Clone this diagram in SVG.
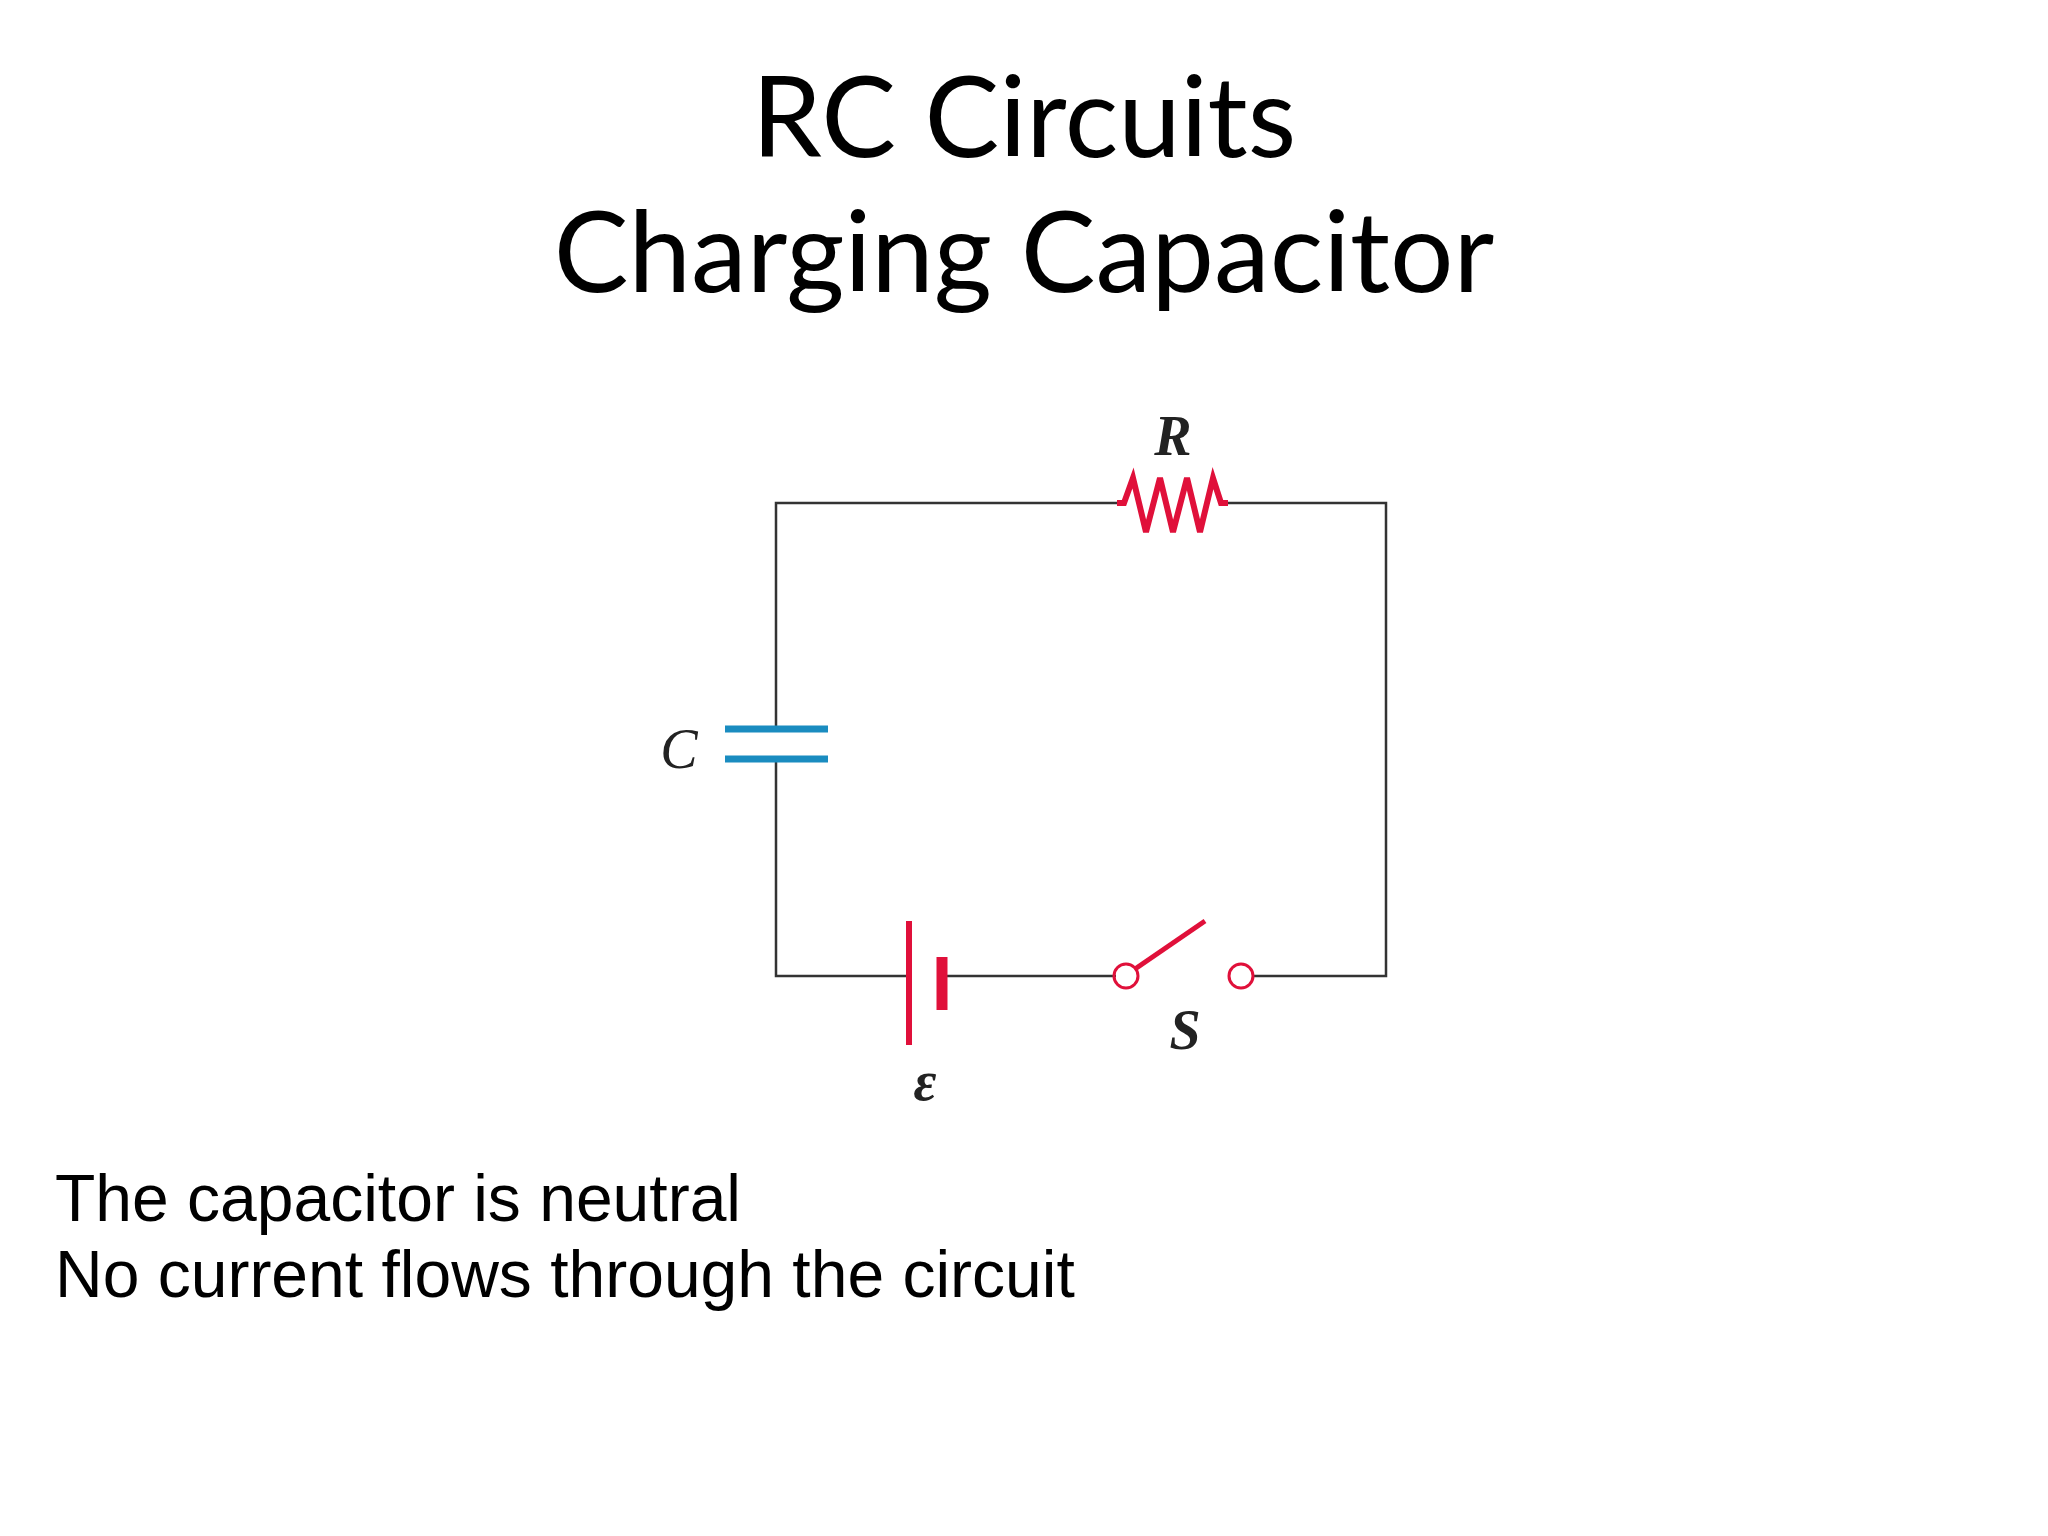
<svg xmlns="http://www.w3.org/2000/svg" width="2048" height="1536" viewBox="0 0 2048 1536">
<style>
.title{font-family:Lato,"Open Sans",sans-serif;font-size:112px;fill:#000;text-anchor:middle}
.wire{stroke:#333;stroke-width:2.5;fill:none}
.red{stroke:#e0103a;fill:none}
.lbl{font-family:"Liberation Serif",serif;font-size:56px;font-style:italic;fill:#222;text-anchor:middle}
.body{font-family:"Liberation Sans",Arial,sans-serif;font-size:66px;fill:#000}
</style>
<rect width="2048" height="1536" fill="#fff"/>
<text class="title" x="1024" y="157">RC Circuits</text>
<text class="title" x="1024" y="292">Charging Capacitor</text>
<g id="connectors">
<path class="wire" d="M1117,503 H776 V729 M776,759 V976 H909 M947,976 H1116 M1254,976 H1386 V503 H1228"/>
</g>
<g id="resistor">
<polyline class="red" stroke-width="6" stroke-linejoin="miter" points="1117,503 1124,503 1133,478 1146,532 1160,478 1173,532 1187,478 1200,532 1213,478 1221,503 1228,503"/>
<text class="lbl" x="1173" y="455" font-weight="bold">R</text>
</g>
<g id="capacitor">
<line x1="725" y1="729" x2="828" y2="729" stroke="#1a8cc0" stroke-width="7"/>
<line x1="725" y1="759" x2="828" y2="759" stroke="#1a8cc0" stroke-width="7"/>
<text class="lbl" x="679" y="768">C</text>
</g>
<g id="battery">
<line class="red" x1="909" y1="921" x2="909" y2="1045" stroke-width="6"/>
<line class="red" x1="942" y1="957" x2="942" y2="1010" stroke-width="11"/>
<text class="lbl" x="925" y="1100" font-size="78" font-weight="bold">ε</text>
</g>
<g id="switch">
<circle class="red" cx="1126" cy="976" r="12" stroke-width="3" fill="#fff"/>
<circle class="red" cx="1241" cy="976" r="12" stroke-width="3" fill="#fff"/>
<line class="red" x1="1135" y1="969" x2="1205" y2="921" stroke-width="5"/>
<text class="lbl" x="1185" y="1049" font-style="normal" font-weight="bold">S</text>
</g>
<text class="body" x="55" y="1221">The capacitor is neutral</text>
<text class="body" x="55" y="1297">No current flows through the circuit</text>
</svg>
